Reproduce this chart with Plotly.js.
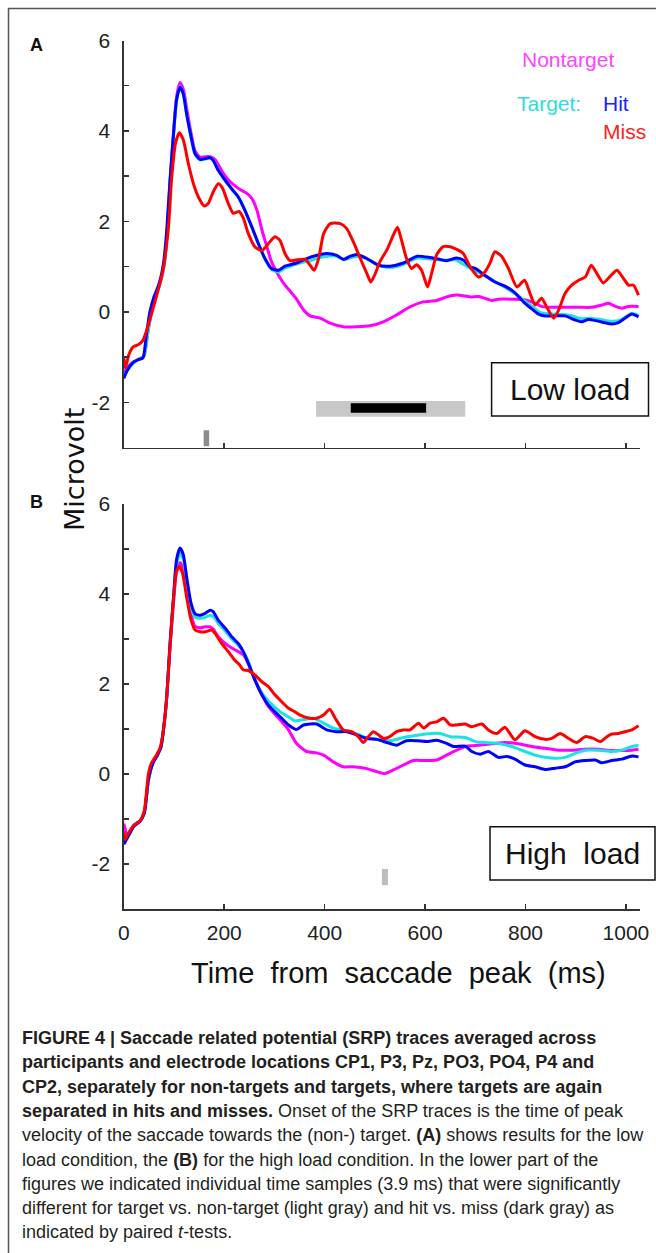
<!DOCTYPE html>
<html>
<head>
<meta charset="utf-8">
<script src="https://cdn.plot.ly/plotly-3.0.1.min.js"></script>
<style>
  html, body { margin: 0; padding: 0; background: #fff; }
  #chart { width: 656px; height: 1253px; }
</style>
</head>
<body>
<div id="chart"></div>
<script>
// ---------------- Panel A (low load) ----------------
const tA_non = [0, 10, 20, 30, 40, 48, 56, 64, 72, 80, 86, 92, 99, 105, 112, 119, 126, 134, 142, 152, 162, 172, 182, 195, 208, 228, 245, 255, 265, 275, 285, 294, 308, 321, 331, 344, 358, 371, 391, 411, 437, 464, 490, 517, 543, 570, 596, 623, 643, 663, 690, 707, 733, 746, 773, 799, 819, 832, 852, 879, 905, 932, 952, 965, 979, 992, 1005, 1025];
const vA_non = [-1.35, -1.2, -1.1, -1.05, -0.98, -0.45, 0.05, 0.38, 0.62, 1.0, 1.70, 2.85, 3.95, 4.75, 5.07, 4.90, 4.45, 3.95, 3.55, 3.42, 3.43, 3.43, 3.36, 3.12, 2.92, 2.73, 2.62, 2.51, 2.25, 1.81, 1.44, 1.11, 0.81, 0.59, 0.46, 0.28, 0.04, -0.09, -0.14, -0.25, -0.33, -0.33, -0.31, -0.22, -0.07, 0.11, 0.22, 0.25, 0.33, 0.37, 0.33, 0.34, 0.25, 0.28, 0.28, 0.27, 0.19, 0.12, 0.10, 0.10, 0.10, 0.10, 0.15, 0.19, 0.12, 0.08, 0.12, 0.12];

const tA_tgt = [0, 10, 20, 30, 40, 48, 56, 64, 72, 80, 86, 92, 99, 105, 112, 119, 126, 134, 142, 152, 162, 172, 180, 190, 203, 216, 229, 242, 255, 268, 281, 294, 308, 321, 334, 350, 370, 395, 420, 440, 460, 480, 505, 530, 557, 584, 610, 635, 660, 690, 720, 750, 780, 800, 815, 830, 850, 870, 890, 910, 930, 950, 970, 990, 1010, 1025];
const vA_tgt = [-1.42, -1.25, -1.12, -1.05, -0.98, -0.45, 0.05, 0.38, 0.62, 1.0, 1.70, 2.85, 3.90, 4.66, 4.99, 4.80, 4.33, 3.85, 3.48, 3.36, 3.38, 3.40, 3.32, 3.10, 2.88, 2.70, 2.52, 2.22, 1.86, 1.50, 1.17, 0.94, 0.88, 0.97, 1.02, 1.08, 1.13, 1.21, 1.24, 1.16, 1.22, 1.19, 1.04, 0.98, 1.05, 1.19, 1.17, 1.14, 1.15, 0.96, 0.79, 0.60, 0.40, 0.23, 0.10, -0.02, -0.05, -0.06, -0.08, -0.15, -0.14, -0.17, -0.21, -0.18, -0.04, -0.08];

const tA_hit = [0, 7.6, 18, 28, 38, 45, 52, 60, 68, 74, 79, 85, 92, 99, 105, 112, 118.5, 125, 134, 142, 152, 162, 172, 178, 188, 202, 215, 228, 241, 255, 268, 281, 294, 308, 321, 334, 344, 358, 378, 404, 424, 437, 451, 464, 484, 507, 530, 557, 584, 610, 630, 643, 663, 677, 690, 700, 719, 739, 759, 779, 796, 812, 826, 839, 859, 879, 899, 912, 925, 942, 958, 972, 985, 998, 1012, 1025];
const vA_hit = [-1.47, -1.28, -1.13, -1.06, -1.02, -0.5, 0.0, 0.33, 0.55, 0.78, 1.07, 1.73, 2.91, 3.94, 4.68, 4.97, 4.82, 4.38, 3.87, 3.50, 3.37, 3.39, 3.41, 3.35, 3.13, 2.91, 2.72, 2.54, 2.25, 1.88, 1.51, 1.18, 0.96, 0.92, 1.01, 1.05, 1.08, 1.15, 1.23, 1.29, 1.25, 1.16, 1.23, 1.27, 1.18, 1.03, 1.01, 1.08, 1.23, 1.20, 1.16, 1.13, 1.19, 1.14, 0.99, 0.96, 0.81, 0.66, 0.57, 0.42, 0.22, 0.07, -0.05, -0.09, -0.09, -0.09, -0.18, -0.22, -0.17, -0.20, -0.24, -0.27, -0.24, -0.14, -0.05, -0.11];

const tA_miss = [0, 3, 10, 18, 30, 38, 45, 55, 66, 78, 89, 95, 103, 110.6, 118.6, 128.5, 138.5, 148.5, 160.4, 168.4, 178.4, 188.3, 196.3, 208, 218, 229.5, 238, 248, 261, 275, 288, 301, 311, 321, 331, 344, 361, 371, 379, 388, 398, 411, 431, 444, 457, 471, 484, 492, 501, 510, 524, 537, 545, 553, 563, 573, 583, 593, 605, 613, 623, 636, 650, 663, 676, 690, 707, 719, 729, 739, 753, 766, 783, 798, 809, 819, 832, 842, 856, 866, 879, 892, 906, 919, 931, 942, 955, 969, 982, 995, 1005, 1015, 1025];
const vA_miss = [-1.02, -1.24, -0.95, -0.78, -0.72, -0.63, -0.43, -0.05, 0.38, 0.92, 1.88, 2.91, 3.73, 3.96, 3.80, 3.28, 2.84, 2.54, 2.34, 2.40, 2.66, 2.83, 2.74, 2.40, 2.18, 2.22, 2.07, 1.73, 1.44, 1.35, 1.51, 1.66, 1.58, 1.29, 1.13, 1.15, 1.16, 1.03, 0.92, 1.18, 1.73, 1.95, 1.95, 1.84, 1.55, 1.18, 0.85, 0.66, 0.85, 1.11, 1.37, 1.70, 1.87, 1.59, 1.18, 0.96, 1.04, 0.92, 0.55, 0.85, 1.26, 1.44, 1.44, 1.38, 1.29, 0.99, 0.77, 0.88, 1.07, 1.33, 1.22, 0.96, 0.55, 0.70, 0.41, 0.15, 0.30, 0.11, -0.14, 0.04, 0.41, 0.59, 0.70, 0.77, 1.03, 0.85, 0.64, 0.79, 0.92, 0.74, 0.59, 0.59, 0.37];

// ---------------- Panel B (high load) ----------------
const tB_non = [0, 8, 20, 33, 41, 49, 58, 66, 74, 79, 85, 92, 99, 105, 112, 119, 125, 134, 142, 152, 162, 172, 178, 188, 202, 215, 228, 238, 248, 261, 275, 288, 301, 314, 328, 344, 364, 384, 398, 417, 437, 457, 484, 504, 520, 537, 557, 577, 597, 623, 643, 663, 683, 707, 733, 759, 786, 812, 839, 865, 892, 919, 945, 972, 992, 1012, 1025];
const vB_non = [-1.1, -1.38, -1.14, -1.03, -0.85, -0.15, 0.25, 0.40, 0.60, 0.98, 1.62, 2.80, 3.80, 4.50, 4.70, 4.55, 4.20, 3.55, 3.28, 3.25, 3.27, 3.27, 3.22, 3.05, 2.90, 2.80, 2.72, 2.65, 2.45, 2.09, 1.76, 1.50, 1.33, 1.17, 0.98, 0.68, 0.50, 0.47, 0.42, 0.27, 0.16, 0.16, 0.12, 0.05, 0.01, 0.09, 0.20, 0.30, 0.30, 0.31, 0.42, 0.53, 0.62, 0.64, 0.67, 0.70, 0.67, 0.61, 0.57, 0.53, 0.53, 0.55, 0.55, 0.52, 0.52, 0.53, 0.55];

const tB_tgt = [0, 8, 20, 33, 41, 49, 58, 66, 74, 79, 85, 92, 99, 105, 112, 119, 125, 134, 142, 152, 162, 172, 180, 188, 202, 215, 228, 240, 250, 261, 275, 288, 301, 314, 331, 341, 358, 378, 398, 417, 437, 457, 477, 504, 530, 557, 584, 610, 630, 650, 680, 700, 719, 746, 773, 799, 819, 839, 859, 879, 899, 919, 945, 972, 992, 1012, 1025];
const vB_tgt = [-1.5, -1.38, -1.14, -1.03, -0.85, -0.15, 0.25, 0.40, 0.60, 0.98, 1.62, 2.85, 3.88, 4.65, 4.90, 4.75, 4.30, 3.72, 3.48, 3.46, 3.48, 3.53, 3.48, 3.35, 3.18, 3.00, 2.86, 2.68, 2.45, 2.10, 1.80, 1.62, 1.48, 1.36, 1.25, 1.18, 1.21, 1.24, 1.13, 1.02, 0.98, 0.92, 0.83, 0.77, 0.74, 0.81, 0.86, 0.90, 0.90, 0.83, 0.81, 0.72, 0.70, 0.68, 0.61, 0.50, 0.42, 0.37, 0.35, 0.37, 0.46, 0.53, 0.53, 0.50, 0.53, 0.61, 0.64];

const tB_hit = [0, 7.6, 20, 32.6, 41, 49, 57.6, 66, 74, 79, 85, 92, 99, 105, 112, 118.6, 125, 134, 142, 152, 162, 172, 178, 188, 202, 215, 228, 238, 248, 261, 275, 288, 301, 314, 328, 344, 358, 384, 404, 424, 444, 464, 484, 504, 524, 543, 563, 584, 603, 623, 643, 657, 680, 693, 710, 726, 746, 763, 779, 799, 819, 839, 859, 879, 899, 919, 939, 952, 972, 992, 1012, 1025];
const vB_hit = [-1.56, -1.41, -1.16, -1.05, -0.86, -0.12, 0.23, 0.40, 0.60, 0.98, 1.64, 2.90, 3.94, 4.76, 5.02, 4.87, 4.39, 3.79, 3.56, 3.53, 3.57, 3.64, 3.61, 3.42, 3.24, 3.05, 2.90, 2.72, 2.46, 2.09, 1.76, 1.53, 1.38, 1.24, 1.09, 0.99, 1.09, 1.11, 0.98, 0.94, 0.94, 0.87, 0.79, 0.77, 0.70, 0.64, 0.74, 0.74, 0.72, 0.75, 0.68, 0.61, 0.62, 0.50, 0.44, 0.50, 0.37, 0.39, 0.33, 0.20, 0.16, 0.10, 0.13, 0.16, 0.27, 0.30, 0.31, 0.25, 0.30, 0.33, 0.40, 0.38];

const tB_miss = [0, 3, 10, 20, 33, 41, 49, 55, 65, 72, 79, 85, 92, 98.7, 105, 110.6, 117, 125, 134, 142, 152, 162, 175, 182, 195, 208, 221, 231, 238, 248, 261, 275, 288, 301, 314, 328, 341, 351, 371, 384, 398, 410, 421, 437, 454, 467, 477, 487, 497, 507, 517, 530, 543, 557, 570, 587, 597, 610, 623, 637, 650, 663, 680, 693, 713, 726, 743, 759, 779, 799, 819, 839, 852, 869, 886, 902, 919, 935, 949, 962, 972, 985, 998, 1012, 1025];
const vB_miss = [-1.27, -1.45, -1.3, -1.14, -1.03, -0.8, 0.0, 0.24, 0.42, 0.57, 0.98, 1.64, 2.83, 3.86, 4.50, 4.61, 4.46, 3.94, 3.42, 3.20, 3.16, 3.16, 3.20, 3.12, 2.90, 2.72, 2.53, 2.42, 2.31, 2.30, 2.20, 2.05, 1.94, 1.76, 1.61, 1.46, 1.38, 1.31, 1.24, 1.24, 1.31, 1.44, 1.24, 0.98, 0.94, 0.83, 0.70, 0.83, 0.94, 0.87, 0.79, 0.83, 0.94, 0.98, 0.98, 1.13, 1.02, 1.13, 1.16, 1.24, 1.09, 1.09, 1.11, 1.05, 1.11, 0.98, 0.90, 1.04, 0.76, 0.96, 0.83, 0.77, 0.79, 0.90, 0.79, 0.70, 0.83, 0.79, 0.72, 0.83, 0.89, 0.90, 0.94, 0.98, 1.07];

// significant time windows (ms)
const sigA_targetVsNon = [[383, 680]];
const sigA_hitVsMiss = [[452, 602]];
const sigA_early = [[159, 170]];
const sigB_targetVsNon = [[514, 526]];

// axis ticks
const xTicks = [0, 200, 400, 600, 800, 1000];
const yTicks = [-2, -1, 0, 1, 2, 3, 4, 5, 6];
const yTickText = ['-2', '', '0', '', '2', '', '4', '', '6'];

// series labels
const seriesNames = ['Nontarget', 'Target', 'Hit', 'Miss'];

// ------------------------------------------------
const W = 656, H = 1253;
const px = x => x / W;
const py = y => 1 - y / H;
const COL = {non: '#ff00ff', tgt: '#19e3e3', hit: '#0000ff', miss: '#ff0000'};
const FONT = 'Liberation Sans, Arial, sans-serif';

function tr(t, v, col, name, xa, ya) {
  return {x: t, y: v, type: 'scatter', mode: 'lines', name: name, xaxis: xa, yaxis: ya,
          line: {color: col, width: 3, shape: 'spline', smoothing: 0.6}, hoverinfo: 'skip', showlegend: false};
}

const data = [
  tr(tA_non, vA_non, COL.non, seriesNames[0], 'x', 'y'),
  tr(tA_tgt, vA_tgt, COL.tgt, seriesNames[1], 'x', 'y'),
  tr(tA_hit, vA_hit, COL.hit, seriesNames[2], 'x', 'y'),
  tr(tA_miss, vA_miss, COL.miss, seriesNames[3], 'x', 'y'),
  tr(tB_non, vB_non, COL.non, seriesNames[0], 'x2', 'y2'),
  tr(tB_tgt, vB_tgt, COL.tgt, seriesNames[1], 'x2', 'y2'),
  tr(tB_hit, vB_hit, COL.hit, seriesNames[2], 'x2', 'y2'),
  tr(tB_miss, vB_miss, COL.miss, seriesNames[3], 'x2', 'y2')
];

const axisX = {
  range: [0, 1028], domain: [px(123.8), px(640)], showline: true, linecolor: '#333', linewidth: 1.5,
  ticks: 'inside', ticklen: 5, tickwidth: 1.5, tickcolor: '#333', tickvals: xTicks,
  showgrid: false, zeroline: false, fixedrange: true,
  tickfont: {family: FONT, size: 21, color: '#222'}, ticklabelstandoff: 4
};
const axisY = {
  range: [-3, 6], showline: true, linecolor: '#333', linewidth: 1.5,
  ticks: 'inside', ticklen: 5, tickwidth: 1.5, tickcolor: '#333', tickvals: yTicks, ticktext: yTickText,
  showgrid: false, zeroline: false, fixedrange: true,
  tickfont: {family: FONT, size: 21, color: '#222'}, ticklabelstandoff: 8
};

const shapes = [];
function band(list, xa, ya, y0, y1, col) {
  list.forEach(([a, b]) => shapes.push({type: 'rect', xref: xa, yref: ya, x0: a, x1: b, y0: y0, y1: y1,
    fillcolor: col, line: {width: 0}, layer: 'below'}));
}
band(sigA_targetVsNon, 'x', 'y', -2.32, -1.97, '#c8c8c8');
band(sigA_hitVsMiss, 'x', 'y', -2.23, -2.02, '#000000');
band(sigA_early, 'x', 'y', -2.97, -2.62, '#8c8c8c');
band(sigB_targetVsNon, 'x2', 'y2', -2.47, -2.11, '#bdbdbd');

// condition boxes
shapes.push({type: 'rect', xref: 'paper', yref: 'paper', x0: px(491.6), x1: px(648.5), y0: py(416), y1: py(362.7),
  line: {color: '#111', width: 1.5}, fillcolor: 'rgba(0,0,0,0)'});
shapes.push({type: 'rect', xref: 'paper', yref: 'paper', x0: px(490), x1: px(655), y0: py(880), y1: py(826.7),
  line: {color: '#111', width: 1.5}, fillcolor: 'rgba(0,0,0,0)'});
// frame
shapes.push({type: 'line', xref: 'paper', yref: 'paper', x0: px(8), x1: 1, y0: py(8.5), y1: py(8.5), line: {color: '#555', width: 1.5}});
shapes.push({type: 'line', xref: 'paper', yref: 'paper', x0: px(8.5), x1: px(8.5), y0: py(8), y1: 0, line: {color: '#555', width: 1.5}});

function ann(text, x, y, opts) {
  return Object.assign({text: text, xref: 'paper', yref: 'paper', x: px(x), y: py(y), showarrow: false,
    xanchor: 'center', yanchor: 'middle', font: {family: FONT, size: 16, color: '#222'}}, opts || {});
}

const annotations = [
  ann('<b>A</b>', 36, 45, {font: {family: FONT, size: 18, color: '#111'}}),
  ann('<b>B</b>', 36, 502, {font: {family: FONT, size: 18, color: '#111'}}),
  ann('Microvolt', 74, 470, {textangle: -90, font: {family: 'DejaVu Sans, sans-serif', size: 27, color: '#111'}}),
  ann('Time  from  saccade  peak  (ms)', 398, 973, {font: {family: FONT, size: 29, color: '#111'}}),
  ann(seriesNames[0], 568, 60, {font: {family: FONT, size: 21, color: '#ff44ff'}}),
  ann(seriesNames[1] + ':', 583, 104, {xanchor: 'right', font: {family: FONT, size: 21, color: '#2fdcdc'}}),
  ann(seriesNames[2], 601, 104, {xanchor: 'left', font: {family: FONT, size: 21, color: '#2020ff'}}),
  ann(seriesNames[3], 601, 131, {xanchor: 'left', font: {family: FONT, size: 21, color: '#ff2020'}}),
  ann('Low load', 570, 389, {font: {family: FONT, size: 30, color: '#111'}}),
  ann('High  load', 572, 853, {font: {family: FONT, size: 30, color: '#111'}})
];

const caption = [
  '<b>FIGURE 4 | Saccade related potential (SRP) traces averaged across</b>',
  '<b>participants and electrode locations CP1, P3, Pz, PO3, PO4, P4 and</b>',
  '<b>CP2, separately for non-targets and targets, where targets are again</b>',
  '<b>separated in hits and misses.</b> Onset of the SRP traces is the time of peak',
  'velocity of the saccade towards the (non-) target. <b>(A)</b> shows results for the low',
  'load condition, the <b>(B)</b> for the high load condition. In the lower part of the',
  'figures we indicated individual time samples (3.9 ms) that were significantly',
  'different for target vs. non-target (light gray) and hit vs. miss (dark gray) as',
  'indicated by paired <i>t</i>-tests.'
];
caption.forEach((line, i) => {
  annotations.push(ann(line, 20, 1038 + i * 24.3, {xanchor: 'left', font: {family: FONT, size: 18, color: '#231f20'}}));
});

const layout = {
  width: W, height: H,
  margin: {l: 0, r: 0, t: 0, b: 0},
  paper_bgcolor: '#fff', plot_bgcolor: 'rgba(0,0,0,0)',
  showlegend: false,
  xaxis: Object.assign({}, axisX, {anchor: 'y', showticklabels: false}),
  yaxis: Object.assign({}, axisY, {anchor: 'x', domain: [py(447.5), py(40.5)]}),
  xaxis2: Object.assign({}, axisX, {anchor: 'y2', showticklabels: true}),
  yaxis2: Object.assign({}, axisY, {anchor: 'x2', domain: [py(909), py(504)]}),
  shapes: shapes,
  annotations: annotations
};

Plotly.newPlot('chart', data, layout, {displayModeBar: false, staticPlot: true});
</script>
</body>
</html>
